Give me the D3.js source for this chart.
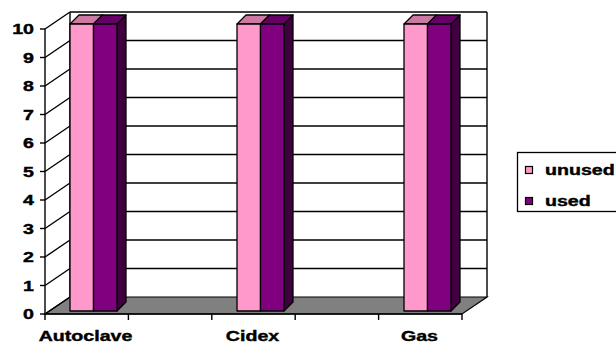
<!DOCTYPE html>
<html><head><meta charset="utf-8">
<script src="https://cdn.jsdelivr.net/npm/d3@7"></script>
<style>body{margin:0;background:#fff;} svg{display:block;font-family:"Liberation Sans",Arial,sans-serif;}</style>
</head><body>
<svg id="chart" width="616" height="350"></svg>
<script>
const categories = ["Autoclave", "Cidex", "Gas"];
const seriesNames = ["unused", "used"];
const unusedValues = [10, 10, 10];
const usedValues = [10, 10, 10];
const yTicks = [0,1,2,3,4,5,6,7,8,9,10];
const colors = {unused:"#FF99CC", used:"#800080"};
const topColors = {unused:"#CC7AA3", used:"#660066"};
const sideColors = {unused:"#CC7AA3", used:"#400040"};

const svg = d3.select("#chart");
const X0 = 45, X1 = 462, DX = 25, DY = -17;
const SX = 1.4;
const y = d3.scaleLinear().domain([0,10]).range([314, 29]);
const yBar = d3.scaleLinear().domain([0,10]).range([311, 24]);
const x = d3.scaleBand().domain(categories).range([10, 511]).paddingInner(0.7186).paddingOuter(0.3593);
const xs = d3.scaleBand().domain(seriesNames).range([0, x.bandwidth()]);
const xt = d3.scaleLinear().domain([0,5]).range([X0, X1]);
const bdx = 9, bdy = -9;

function label(px, py, txt, anchor, size) {
  svg.append("text").attr("transform", `translate(${px},${py}) scale(${SX},1)`)
    .attr("text-anchor", anchor).attr("font-size", size).attr("font-weight","bold")
    .attr("fill","#000").attr("stroke","#000").attr("stroke-width",0.4).text(txt);
}

// floor
svg.append("path")
  .attr("d", `M${X0},${y(0)}L${X1},${y(0)}L${X1+DX},${y(0)+DY}L${X0+DX},${y(0)+DY}Z`)
  .attr("fill","#808080").attr("stroke","#000").attr("stroke-width",1.2);

// walls and gridlines
const g = svg.append("g").attr("stroke","#000").attr("stroke-width",1.4).attr("fill","none");
yTicks.forEach(t => {
  if (t > 0) g.append("line").attr("x1", X0+DX).attr("x2", X1+DX).attr("y1", y(t)+DY).attr("y2", y(t)+DY);
  g.append("line").attr("x1", X0).attr("y1", y(t)).attr("x2", X0+DX).attr("y2", y(t)+DY);
});
g.append("line").attr("x1", X1+DX).attr("x2", X1+DX).attr("y1", y(10)+DY).attr("y2", y(0)+DY);
g.append("line").attr("x1", X0+DX).attr("x2", X0+DX).attr("y1", y(10)+DY).attr("y2", y(0)+DY);
g.append("line").attr("x1", X0).attr("x2", X0).attr("y1", y(10)).attr("y2", y(0)+1);
g.append("line").attr("x1", X0).attr("x2", X1).attr("y1", y(0)).attr("y2", y(0));

// y axis ticks + labels
yTicks.forEach(t => {
  g.append("line").attr("x1", X0-5).attr("x2", X0).attr("y1", y(t)).attr("y2", y(t));
  label(34, y(t) + 5, t, "end", 14);
});
// x ticks
d3.range(6).forEach(i => {
  g.append("line").attr("x1", xt(i)).attr("x2", xt(i)).attr("y1", y(0)).attr("y2", y(0)+6);
});

// bars
const data = categories.map((c,i) => ({c, vals: [{s:"unused", v:unusedValues[i]}, {s:"used", v:usedValues[i]}]}));
data.forEach(d => {
  d.vals.forEach(e => {
    const bx = x(d.c) + xs(e.s), bw = xs.bandwidth();
    const top = yBar(e.v), bot = yBar(0);
    const gb = svg.append("g").attr("stroke","#000").attr("stroke-width",1.3).attr("stroke-linejoin","round");
    gb.append("path").attr("d", `M${bx+bw},${bot}L${bx+bw+bdx},${bot+bdy}L${bx+bw+bdx},${top+bdy}L${bx+bw},${top}Z`).attr("fill", sideColors[e.s]);
    gb.append("path").attr("d", `M${bx},${top}L${bx+bdx},${top+bdy}L${bx+bw+bdx},${top+bdy}L${bx+bw},${top}Z`).attr("fill", topColors[e.s]);
    gb.append("rect").attr("x", bx).attr("y", top).attr("width", bw).attr("height", bot-top).attr("fill", colors[e.s]);
  });
  label(x(d.c) + x.bandwidth()/2 - 8, 341, d.c, "middle", 14);
});

// legend
const lg = svg.append("g");
lg.append("rect").attr("x",517.5).attr("y",152.5).attr("width",110).attr("height",59).attr("fill","#fff").attr("stroke","#000").attr("stroke-width",1.3);
seriesNames.forEach((s,i) => {
  lg.append("rect").attr("x",525.5).attr("y",166.5+i*31).attr("width",7).attr("height",7).attr("fill",colors[s]).attr("stroke","#000").attr("stroke-width",1.2);
  label(545, 175+i*31, s, "start", 14);
});
</script>
</body></html>
